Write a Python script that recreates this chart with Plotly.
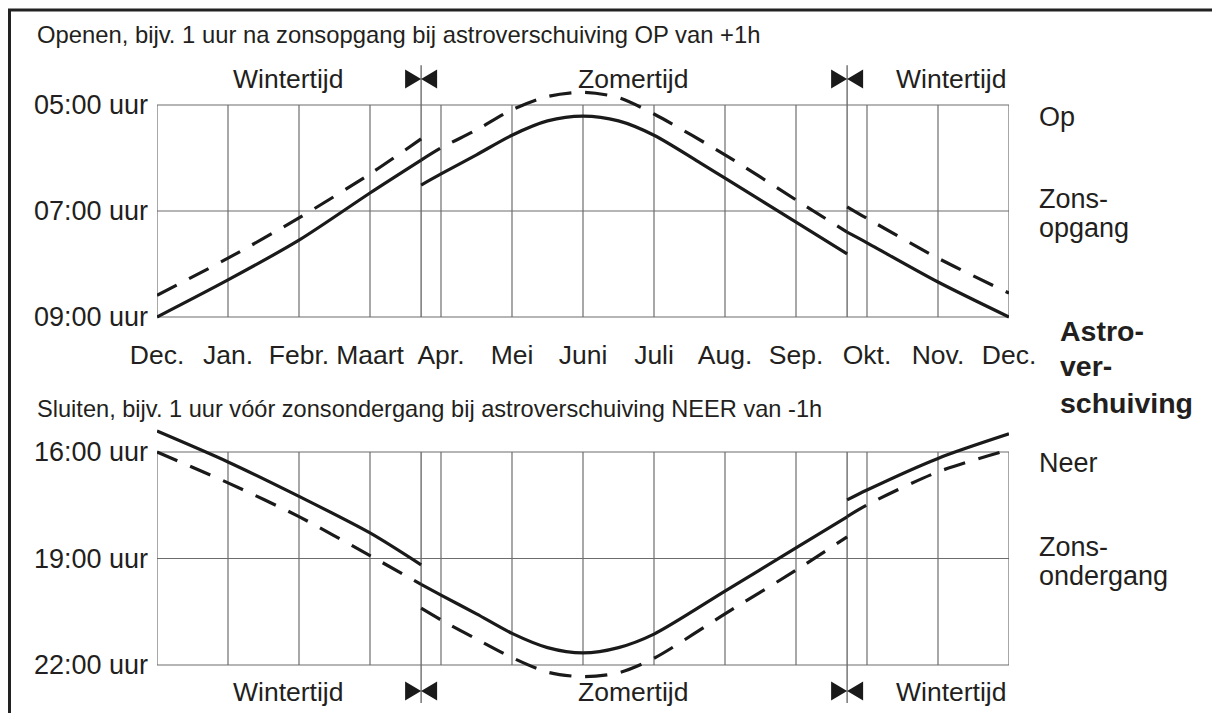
import plotly.graph_objects as go

# ---- data -------------------------------------------------------------
months = ["Dec.", "Jan.", "Febr.", "Maart", "Apr.", "Mei", "Juni",
          "Juli", "Aug.", "Sep.", "Okt.", "Nov.", "Dec."]
month_pos = list(range(len(months)))
dst_spring = 3.72   # switch to Zomertijd
dst_autumn = 9.72   # switch back to Wintertijd

open_ticks = [5, 7, 9]
open_ticktext = ["05:00 uur", "07:00 uur", "09:00 uur"]
close_ticks = [16, 19, 22]
close_ticktext = ["16:00 uur", "19:00 uur", "22:00 uur"]

# sunrise (solid), hours
rise_w1_x = [0, 1, 2, 3, 3.72]
rise_w1_y = [9.0, 8.30, 7.55, 6.66, 6.04]
rise_s_x = [3.72, 4, 4.5, 5, 5.5, 6, 6.5, 7, 7.65, 8, 9, 9.72]
rise_s_y = [6.51, 6.30, 5.94, 5.57, 5.30, 5.21, 5.30, 5.57, 6.09, 6.38, 7.21, 7.81]
rise_w2_x = [9.72, 10, 11, 12]
rise_w2_y = [7.40, 7.60, 8.34, 9.0]

# opening with astro shift (dashed), hours
open_w1_x = [0, 1, 2, 3, 3.72]
open_w1_y = [8.59, 7.89, 7.13, 6.30, 5.64]
open_s_x = [3.72, 4, 4.5, 5, 5.5, 6, 6.5, 7, 8, 9, 9.72]
open_s_y = [6.04, 5.81, 5.47, 5.09, 4.84, 4.76, 4.86, 5.17, 5.94, 6.79, 7.40]
open_w2_x = [9.72, 10, 11, 12]
open_w2_y = [6.92, 7.14, 7.89, 8.55]

# sunset (solid), hours
set_w1_x = [0, 1, 2, 3, 3.72]
set_w1_y = [15.41, 16.28, 17.25, 18.28, 19.18]
set_s_x = [3.72, 4, 4.5, 5, 5.5, 6, 6.5, 7, 8, 9, 9.72]
set_s_y = [19.73, 20.03, 20.56, 21.11, 21.51, 21.66, 21.51, 21.13, 19.92, 18.70, 17.83]
set_w2_x = [9.72, 10, 11, 12]
set_w2_y = [17.35, 17.07, 16.18, 15.49]

# closing with astro shift (dashed), hours
close_w1_x = [0, 1, 2, 3, 3.72]
close_w1_y = [16.0, 16.87, 17.82, 18.92, 19.73]
close_s_x = [3.72, 4, 4.5, 5, 5.5, 6, 6.5, 7, 8, 9, 9.72]
close_s_y = [20.40, 20.73, 21.27, 21.79, 22.20, 22.33, 22.22, 21.81, 20.56, 19.33, 18.39]
close_w2_x = [9.72, 10, 11, 12]
close_w2_y = [17.82, 17.49, 16.56, 15.94]

# ---- layout helpers ---------------------------------------------------
INK = "#231f20"
LINE = "#1a1a1a"
GRID = "#6d6d6d"
FONT = "Liberation Sans, Arial, sans-serif"

OFF = 8                 # page body margin
FW, FH = 1220 - OFF, 713 - OFF

top_range = [9.26, 4.1]
bot_range = [23.2, 15.2]


def fx(px):
    return (px - OFF) / FW


def fy(py):
    return 1 - (py - OFF) / FH


def y_domain(h_a, px_a, h_b, px_b, rng):
    k = (px_b - px_a) / (h_b - h_a)
    p = [px_a + (h - h_a) * k for h in rng]
    return [max(0, fy(max(p))), min(1, fy(min(p)))]


fig = go.Figure()


def add_curve(x, y, yaxis, dashed):
    fig.add_trace(go.Scatter(
        x=x, y=y, mode="lines", yaxis=yaxis, xaxis="x" if yaxis == "y" else "x2",
        line=dict(color=LINE, width=3.2, shape="spline", smoothing=0.8,
                  dash="22px,14px" if dashed else "solid"),
        hoverinfo="skip", showlegend=False,
    ))


for xs, ys in [(rise_w1_x, rise_w1_y), (rise_s_x, rise_s_y), (rise_w2_x, rise_w2_y)]:
    add_curve(xs, ys, "y", False)
for xs, ys in [(open_w1_x, open_w1_y), (open_s_x, open_s_y), (open_w2_x, open_w2_y)]:
    add_curve(xs, ys, "y", True)
for xs, ys in [(set_w1_x, set_w1_y), (set_s_x, set_s_y), (set_w2_x, set_w2_y)]:
    add_curve(xs, ys, "y2", False)
for xs, ys in [(close_w1_x, close_w1_y), (close_s_x, close_s_y), (close_w2_x, close_w2_y)]:
    add_curve(xs, ys, "y2", True)

shapes = []
# grids drawn in data coordinates
for xr, yr, ticks in [("x", "y", open_ticks), ("x2", "y2", close_ticks)]:
    for m in month_pos:
        shapes.append(dict(type="line", xref=xr, yref=yr, x0=m, x1=m,
                           y0=ticks[0], y1=ticks[-1], line=dict(color=GRID, width=1.2),
                           layer="below"))
    for t in ticks:
        shapes.append(dict(type="line", xref=xr, yref=yr, x0=month_pos[0], x1=month_pos[-1],
                           y0=t, y1=t, line=dict(color=GRID, width=1.2), layer="below"))

# daylight saving switch lines with bow-tie markers
for d in [dst_spring, dst_autumn]:
    shapes.append(dict(type="line", xref="x", yref="y", x0=d, x1=d, y0=4.25, y1=9,
                       line=dict(color=GRID, width=1.4), layer="below"))
    shapes.append(dict(type="line", xref="x2", yref="y2", x0=d, x1=d, y0=16, y1=23.07,
                       line=dict(color=GRID, width=1.4), layer="below"))
    for yc in [fy(79), fy(691)]:
        shapes.append(dict(type="path", xref="x", yref="paper",
                           xsizemode="pixel", ysizemode="pixel", xanchor=d, yanchor=yc,
                           path="M-16,-9.5L0,0L-16,9.5ZM16,-9.5L0,0L16,9.5Z",
                           fillcolor=LINE, line=dict(width=0)))

# outer frame (left and top edge)
shapes.append(dict(type="line", xref="paper", yref="paper", x0=fx(9.5), x1=fx(9.5),
                   y0=0, y1=fy(10), line=dict(color="#222", width=3)))
shapes.append(dict(type="line", xref="paper", yref="paper", x0=fx(8), x1=1,
                   y0=fy(10), y1=fy(10), line=dict(color="#222", width=3)))


def note(text, x, y, size, xanchor="left", bold=False):
    return dict(text=f"<b>{text}</b>" if bold else text, x=fx(x), y=fy(y),
                xref="paper", yref="paper", xanchor=xanchor, yanchor="middle",
                showarrow=False, font=dict(size=size, color=INK, family=FONT))


annotations = [
    note("Openen, bijv. 1 uur na zonsopgang bij astroverschuiving OP van +1h", 35, 35, 23.8),
    note("Sluiten, bijv. 1 uur vóór zonsondergang bij astroverschuiving NEER van -1h", 35, 409, 23.6),
    note("Wintertijd", 288, 79, 26.5, "center"),
    note("Zomertijd", 633, 79, 26.5, "center"),
    note("Wintertijd", 951, 79, 26.5, "center"),
    note("Wintertijd", 288, 692, 26.5, "center"),
    note("Zomertijd", 633, 692, 26.5, "center"),
    note("Wintertijd", 951, 692, 26.5, "center"),
    note("Op", 1037, 117, 27),
    note("Zons-", 1037, 199, 27),
    note("opgang", 1037, 228, 27),
    note("Neer", 1037, 463, 27),
    note("Zons-", 1037, 547, 27),
    note("ondergang", 1037, 576, 27),
    note("Astro-", 1058, 331, 28.5, bold=True),
    note("ver-", 1058, 366, 28.5, bold=True),
    note("schuiving", 1058, 403, 28.5, bold=True),
]

x_dom = [fx(157), fx(1009)]
fig.update_layout(
    width=FW, height=FH,
    margin=dict(l=0, r=0, t=0, b=0, pad=0),
    paper_bgcolor="white", plot_bgcolor="rgba(0,0,0,0)",
    font=dict(family=FONT, color=INK, size=26),
    showlegend=False,
    xaxis=dict(domain=x_dom, range=[0, 12], anchor="y", automargin=False,
               tickvals=month_pos, ticktext=months, ticks="",
               ticklabelstandoff=6, showgrid=False, zeroline=False, showline=False,
               tickfont=dict(size=26.5, color=INK)),
    yaxis=dict(domain=y_domain(5, 105, 9, 317, top_range), range=top_range, anchor="x",
               automargin=False, tickvals=open_ticks, ticktext=open_ticktext, ticks="",
               ticklabelstandoff=8, showgrid=False, zeroline=False, showline=False,
               tickfont=dict(size=27, color=INK)),
    xaxis2=dict(domain=x_dom, range=[0, 12], anchor="y2", showticklabels=False,
                automargin=False, showgrid=False, zeroline=False, showline=False),
    yaxis2=dict(domain=y_domain(16, 452, 22, 665, bot_range), range=bot_range, anchor="x2",
                automargin=False, tickvals=close_ticks, ticktext=close_ticktext, ticks="",
                ticklabelstandoff=8, showgrid=False, zeroline=False, showline=False,
                tickfont=dict(size=27, color=INK)),
    shapes=shapes,
    annotations=annotations,
)

fig.write_html("out.html")
